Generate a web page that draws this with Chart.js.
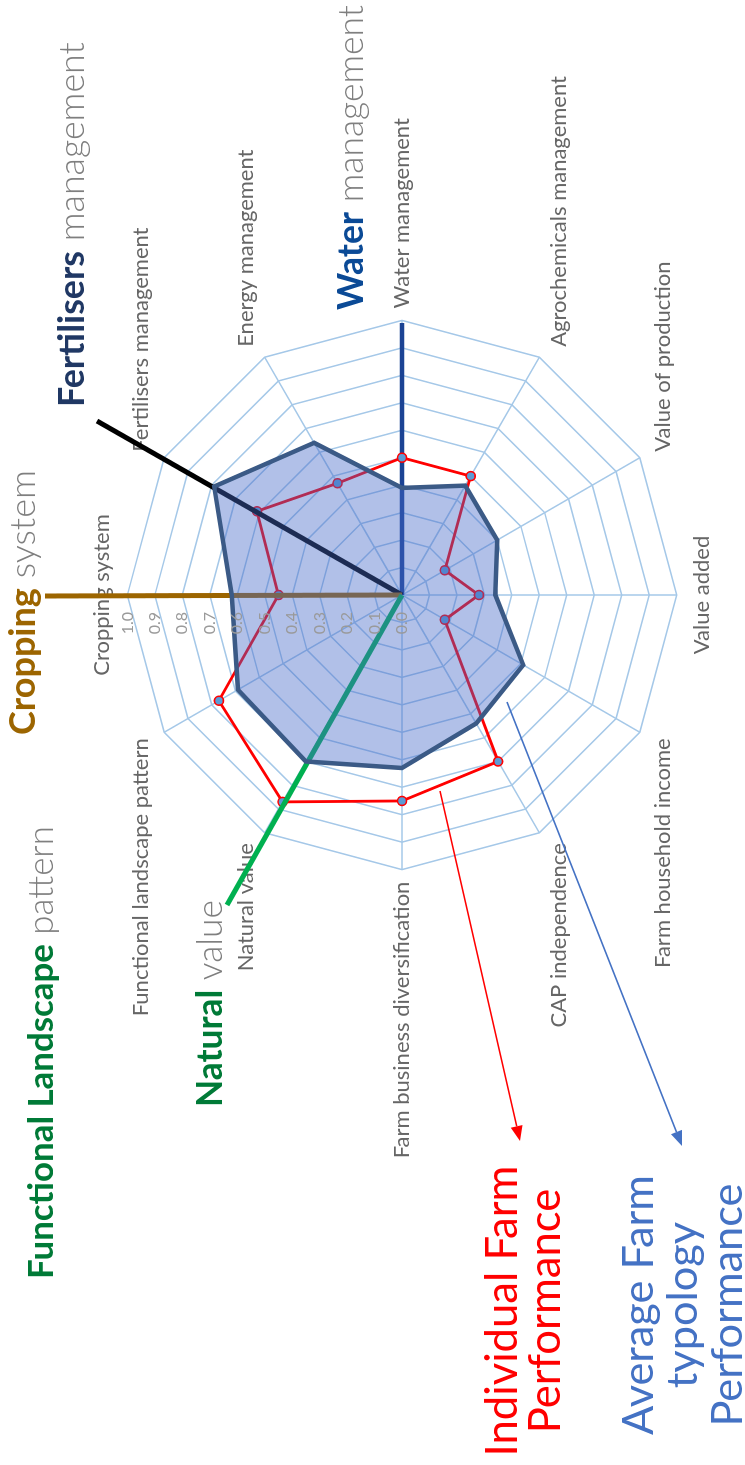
<!DOCTYPE html>
<html><head><meta charset="utf-8">
<script src="https://cdn.jsdelivr.net/npm/chart.js@4"></script>
<style>
html,body{margin:0;padding:0;background:#fff;overflow:hidden;width:745px;height:1465px;}
#wrap{position:absolute;left:0;top:0;width:1600px;height:745px;transform-origin:0 0;transform:translate(0px,1465px) rotate(-90deg);}
canvas{display:block;}
</style></head><body>
<div id="wrap"><canvas id="c" width="1600" height="745"></canvas></div>
<script>
const categories = ['Cropping system','Fertilisers management','Energy management','Water management','Agrochemicals management','Value of production','Value added','Farm household income','CAP independence','Farm business diversification','Natural value','Functional landscape pattern'];
const individualFarm = [0.45,0.61,0.47,0.50,0.50,0.18,0.28,0.18,0.70,0.75,0.87,0.77];
const averageTypology = [0.62,0.79,0.64,0.39,0.46,0.40,0.34,0.51,0.54,0.63,0.70,0.69];
const tickLabels = ['0.0','0.1','0.2','0.3','0.4','0.5','0.6','0.7','0.8','0.9','1.0'];

// page (image) coords -> canvas coords (canvas is rotated -90deg)
function P(X,Y){return {x:1465-Y,y:X};}

function line(ctx,a,b,color,w){ctx.save();ctx.strokeStyle=color;ctx.lineWidth=w;ctx.lineCap='butt';ctx.beginPath();ctx.moveTo(a.x,a.y);ctx.lineTo(b.x,b.y);ctx.stroke();ctx.restore();}
function arrow(ctx,a,b,color,w){
  const ang=Math.atan2(b.y-a.y,b.x-a.x), L=15, H=6;
  const bx=b.x-Math.cos(ang)*L, by=b.y-Math.sin(ang)*L;
  line(ctx,a,{x:bx,y:by},color,w);
  ctx.save();ctx.fillStyle=color;ctx.beginPath();ctx.moveTo(b.x,b.y);
  ctx.lineTo(bx+Math.sin(ang)*H,by-Math.cos(ang)*H);ctx.lineTo(bx-Math.sin(ang)*H,by+Math.cos(ang)*H);ctx.closePath();ctx.fill();ctx.restore();
}
function fontStr(p,size){return (p.w||'400')+' '+size+'px Lato, "Open Sans", sans-serif';}
function widthAt(ctx,parts,size){let w=0;for(const p of parts){ctx.font=fontStr(p,size);w+=ctx.measureText(p.t).width;}return w;}
function fitText(ctx,parts,Ystart,Yend,Xbase){
  const s=P(Xbase,Ystart), target=Ystart-Yend;
  const size=100*target/widthAt(ctx,parts,100);
  let x=s.x;ctx.textBaseline='alphabetic';ctx.textAlign='left';
  for(const p of parts){ctx.font=fontStr(p,size);ctx.fillStyle=p.c;ctx.fillText(p.t,x,s.y);x+=ctx.measureText(p.t).width;}
  return size;
}
function centerLines(ctx,lines,Ycenter,Xbases,size,color){
  ctx.textAlign='center';ctx.textBaseline='alphabetic';ctx.fillStyle=color;ctx.font='400 '+size+'px Lato, "Open Sans", sans-serif';
  lines.forEach((t,i)=>{const p=P(Xbases[i],Ycenter);ctx.fillText(t,p.x,p.y);});
}

const GRAY='#7f7f7f';
const overlay={
  id:'overlay',
  beforeDatasetsDraw(chart){
    const s=chart.scales.r, ctx=chart.ctx, c={x:s.xCenter,y:s.yCenter};
    line(ctx,c,P(402,323),'#1B4394',4.5);
  },
  afterDatasetDraw(chart,args){
    if(args.index!==0) return;
    const s=chart.scales.r, ctx=chart.ctx, c={x:s.xCenter,y:s.yCenter};
    line(ctx,P(97,421),c,'#000000',5);
    line(ctx,P(45,596),c,'#9C6500',5);
    line(ctx,P(227,905),c,'#00B050',5);
  },
  afterDraw(chart){
    const s=chart.scales.r, ctx=chart.ctx;
    ctx.save();ctx.font='16px Lato, "Open Sans", sans-serif';ctx.fillStyle='#9a9a9a';ctx.textAlign='right';ctx.textBaseline='middle';
    s.ticks.forEach(t=>{const d=s.getDistanceFromCenterForValue(t.value);ctx.fillText(t.label,s.xCenter-17,s.yCenter-d);});
    ctx.restore();
    arrow(ctx,P(440,791),P(520,1141),'#FF0000',1.6);
    arrow(ctx,P(507,702),P(682,1146),'#4472C4',1.6);
    ctx.save();
    fitText(ctx,[{t:'Water',w:'700',c:'#0B4A96'},{t:' management',w:'300',c:GRAY}],310,5,363);
    fitText(ctx,[{t:'Fertilisers',w:'700',c:'#203864'},{t:' management',w:'300',c:GRAY}],407,42,84);
    fitText(ctx,[{t:'Cropping',w:'700',c:'#9C6500'},{t:' system',w:'300',c:GRAY}],735,470,35);
    fitText(ctx,[{t:'Natural',w:'700',c:'#007A37'},{t:' value',w:'300',c:GRAY}],1107,900,222);
    fitText(ctx,[{t:'Functional Landscape',w:'700',c:'#007A37'},{t:' pattern',w:'300',c:GRAY}],1279,826,53);
    const redSize=100*291/widthAt(ctx,[{t:'Individual Farm',w:'400'}],100);
    centerLines(ctx,['Individual Farm','Performance'],1311,[517,560],redSize,'#FF0000');
    const bluSize=100*260/widthAt(ctx,[{t:'Average Farm',w:'400'}],100);
    centerLines(ctx,['Average Farm','typology','Performance'],1305,[653,697,742],bluSize,'#4472C4');
    ctx.restore();
  }
};

function build(){
  new Chart(document.getElementById('c'),{
    type:'radar',
    data:{labels:categories,datasets:[
      {label:'Individual Farm Performance',data:individualFarm,borderColor:'#FF0000',borderWidth:2.8,backgroundColor:'rgba(0,0,0,0)',fill:false,
       pointRadius:4.5,pointBackgroundColor:'#5B9BD5',pointBorderColor:'#FF0000',pointBorderWidth:1.6,order:1},
      {label:'Average Farm typology Performance',data:averageTypology,borderColor:'#3B5A86',borderWidth:4.5,backgroundColor:'rgba(70,105,200,0.42)',fill:true,
       pointRadius:0,order:0}
    ]},
    options:{
      responsive:false,animation:false,devicePixelRatio:1,
      layout:{padding:{left:170,right:30,top:89,bottom:30}},
      plugins:{legend:{display:false},tooltip:{enabled:false}},
      elements:{line:{tension:0}},
      scales:{r:{min:0,max:1,beginAtZero:true,
        ticks:{stepSize:0.1,display:false,callback:(v,i)=>tickLabels[i]},
        grid:{color:'#A5C8E8',lineWidth:1.5},
        angleLines:{color:'#A5C8E8',lineWidth:1.5},
        pointLabels:{font:{family:'Lato',size:22},color:'#666666',padding:12}
      }}
    },
    plugins:[overlay]
  });
}
Promise.all([document.fonts.load('22px Lato'),document.fonts.load('700 30px Lato'),document.fonts.load('300 30px Lato')]).then(build,build);
</script>
</body></html>
